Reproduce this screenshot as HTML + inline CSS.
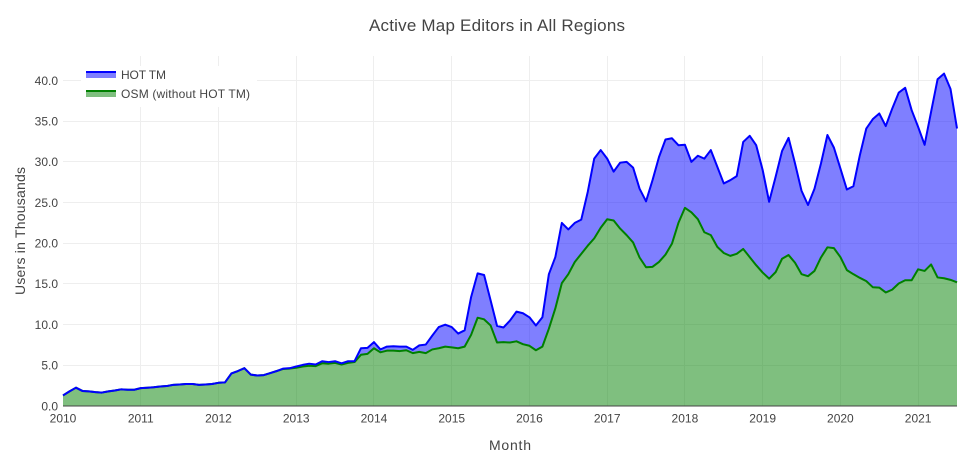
<!DOCTYPE html>
<html lang="en">
<head>
<meta charset="utf-8">
<title>Active Map Editors in All Regions</title>
<style>
html,body{margin:0;padding:0;background:#fff;width:965px;height:461px;overflow:hidden}
svg{display:block}
text{font-family:"Liberation Sans",sans-serif;fill:#444}
</style>
</head>
<body>
<svg id="chart" xmlns="http://www.w3.org/2000/svg" width="965" height="461" viewBox="0 0 965 461">
  <rect x="0" y="0" width="965" height="461" fill="#fff"/>
  <g id="grid"></g>
  <path id="osm-area" fill="rgba(0,128,0,0.5)" stroke="none"/>
  <path id="hot-area" fill="rgba(0,0,255,0.5)" stroke="none"/>
  <line x1="63" x2="957" y1="406" y2="406" stroke="#444" stroke-width="1"/>
  <path id="osm-line" fill="none" stroke="#008000" stroke-width="2" stroke-linejoin="round"/>
  <path id="hot-line" fill="none" stroke="#0000ff" stroke-width="2" stroke-linejoin="round"/>
  <g id="x-ticks"></g>
  <g id="y-ticks"></g>
  <text x="497" y="31" text-anchor="middle" font-size="17" textLength="256" lengthAdjust="spacing">Active Map Editors in All Regions</text>
  <text x="510" y="450" text-anchor="middle" font-size="14" textLength="42" lengthAdjust="spacing">Month</text>
  <text transform="translate(25,231) rotate(-90)" text-anchor="middle" font-size="14" textLength="128" lengthAdjust="spacing">Users in Thousands</text>
  <g>
    <rect x="81" y="66" width="176" height="41" fill="#fff"/>
    <g>
      <rect x="86" y="72" width="30" height="6" fill="rgba(0,0,255,0.5)"/>
      <line x1="86" x2="116" y1="72" y2="72" stroke="#0000ff" stroke-width="2"/>
      <text x="121" y="79" font-size="12" textLength="45" lengthAdjust="spacing">HOT TM</text>
    </g>
    <g>
      <rect x="86" y="91" width="30" height="6" fill="rgba(0,128,0,0.5)"/>
      <line x1="86" x2="116" y1="91" y2="91" stroke="#008000" stroke-width="2"/>
      <text x="121" y="98" font-size="12" textLength="129" lengthAdjust="spacing">OSM (without HOT TM)</text>
    </g>
  </g>
</svg>
<script>
// Monthly values, January 2010 onward, in thousands of users
const startYear = 2010;
const hotTotal = [
  1.3,1.8,2.25,1.85,1.8,1.7,1.65,1.8,1.9,2.05,2.0,2.0,
  2.2,2.25,2.3,2.4,2.45,2.6,2.65,2.7,2.7,2.6,2.65,2.7,
  2.85,2.9,4.0,4.3,4.65,3.85,3.75,3.8,4.05,4.3,4.6,4.65,
  4.85,5.05,5.2,5.1,5.5,5.4,5.5,5.25,5.5,5.5,7.1,7.15,
  7.85,6.95,7.3,7.35,7.3,7.3,6.9,7.45,7.55,8.65,9.7,10.0,
  9.7,8.9,9.3,13.4,16.3,16.1,13.0,9.85,9.65,10.5,11.6,11.4,
  10.9,9.9,10.9,16.2,18.3,22.5,21.7,22.5,22.9,26.3,30.4,31.45,
  30.4,28.8,29.9,30.0,29.3,26.7,25.15,27.75,30.6,32.75,32.9,32.05,
  32.1,30.0,30.75,30.4,31.45,29.4,27.35,27.75,28.25,32.45,33.2,32.05,
  29.0,25.1,28.15,31.35,32.95,29.8,26.45,24.7,26.7,29.8,33.3,31.75,
  29.2,26.6,27.0,30.8,34.1,35.25,35.95,34.4,36.55,38.5,39.1,36.35,
  34.3,32.1,36.15,40.15,40.85,38.95,34.1
];
const osmValues = [
  1.3,1.8,2.25,1.85,1.8,1.7,1.65,1.8,1.9,2.05,2.0,2.0,
  2.2,2.25,2.3,2.4,2.45,2.6,2.65,2.7,2.7,2.6,2.65,2.7,
  2.85,2.9,4.0,4.3,4.65,3.85,3.75,3.8,4.05,4.3,4.55,4.6,
  4.7,4.85,4.95,4.9,5.25,5.2,5.3,5.1,5.3,5.4,6.3,6.4,
  7.1,6.6,6.8,6.8,6.75,6.85,6.5,6.65,6.5,6.95,7.1,7.3,
  7.2,7.1,7.3,8.75,10.85,10.65,9.9,7.8,7.85,7.8,7.95,7.6,
  7.4,6.85,7.3,9.5,12.0,15.1,16.2,17.7,18.7,19.7,20.6,21.9,
  22.95,22.8,21.8,21.0,20.1,18.25,17.05,17.1,17.7,18.6,19.95,22.5,
  24.35,23.8,22.95,21.35,21.0,19.55,18.8,18.45,18.7,19.3,18.3,17.3,
  16.4,15.65,16.45,18.1,18.55,17.6,16.2,15.95,16.6,18.25,19.5,19.4,
  18.3,16.7,16.2,15.75,15.35,14.6,14.55,13.95,14.3,15.05,15.45,15.45,
  16.8,16.6,17.4,15.8,15.7,15.5,15.2
];
const xTickYears = [2010,2011,2012,2013,2014,2015,2016,2017,2018,2019,2020,2021];
const yTickValues = [0,5,10,15,20,25,30,35,40];

const SVG_NS = 'http://www.w3.org/2000/svg';
const plotLeft = 63, plotRight = 957, plotTop = 56, plotBottom = 406;
const monthSpan = 138, yPerUnit = 8.1375;

function xScale(monthIndex) {
  return plotLeft + monthIndex * (plotRight - plotLeft) / monthSpan;
}
function yScale(value) {
  return plotBottom - value * yPerUnit;
}
function linePath(values) {
  return values.map(function (v, i) {
    return (i ? 'L' : 'M') + xScale(i).toFixed(2) + ' ' + yScale(v).toFixed(2);
  }).join('');
}
function svgEl(tag, attrs) {
  const el = document.createElementNS(SVG_NS, tag);
  Object.keys(attrs).forEach(function (k) { el.setAttribute(k, attrs[k]); });
  return el;
}

const gridGroup = document.getElementById('grid');
const xTickGroup = document.getElementById('x-ticks');
const yTickGroup = document.getElementById('y-ticks');

xTickYears.forEach(function (year) {
  const xRaw = xScale((year - startYear) * 12);
  const x = Math.floor(xRaw) + 0.5;
  if (year !== startYear) {
    const g = svgEl('line', {x1: x, x2: x, y1: plotTop, y2: plotBottom, stroke: '#eee', 'stroke-width': 1});
    
    
    gridGroup.appendChild(g);
  }
  const t = svgEl('text', {x: xRaw, y: 422.5, 'text-anchor': 'middle', 'font-size': 12});
  
  
  t.textContent = String(year);
  xTickGroup.appendChild(t);
});

yTickValues.forEach(function (value) {
  const yRaw = yScale(value);
  const y = Math.floor(yRaw) + 0.5;
  if (value !== 0) {
    const g = svgEl('line', {x1: plotLeft, x2: plotRight, y1: y, y2: y, stroke: '#eee', 'stroke-width': 1});
    
    
    gridGroup.appendChild(g);
  }
  const t = svgEl('text', {x: 58, y: yRaw + 4.3, 'text-anchor': 'end', 'font-size': 12});
  
  
  t.textContent = value.toFixed(1);
  yTickGroup.appendChild(t);
});

const lastIndex = osmValues.length - 1;
document.getElementById('osm-area').setAttribute('d',
  linePath(osmValues) + 'L' + xScale(lastIndex).toFixed(2) + ' ' + yScale(0) + 'L' + xScale(0) + ' ' + yScale(0) + 'Z');

let hotArea = linePath(hotTotal);
for (let i = lastIndex; i >= 0; i--) {
  hotArea += 'L' + xScale(i).toFixed(2) + ' ' + yScale(osmValues[i]).toFixed(2);
}
document.getElementById('hot-area').setAttribute('d', hotArea + 'Z');
document.getElementById('osm-line').setAttribute('d', linePath(osmValues));
document.getElementById('hot-line').setAttribute('d', linePath(hotTotal));
</script>
</body>
</html>
